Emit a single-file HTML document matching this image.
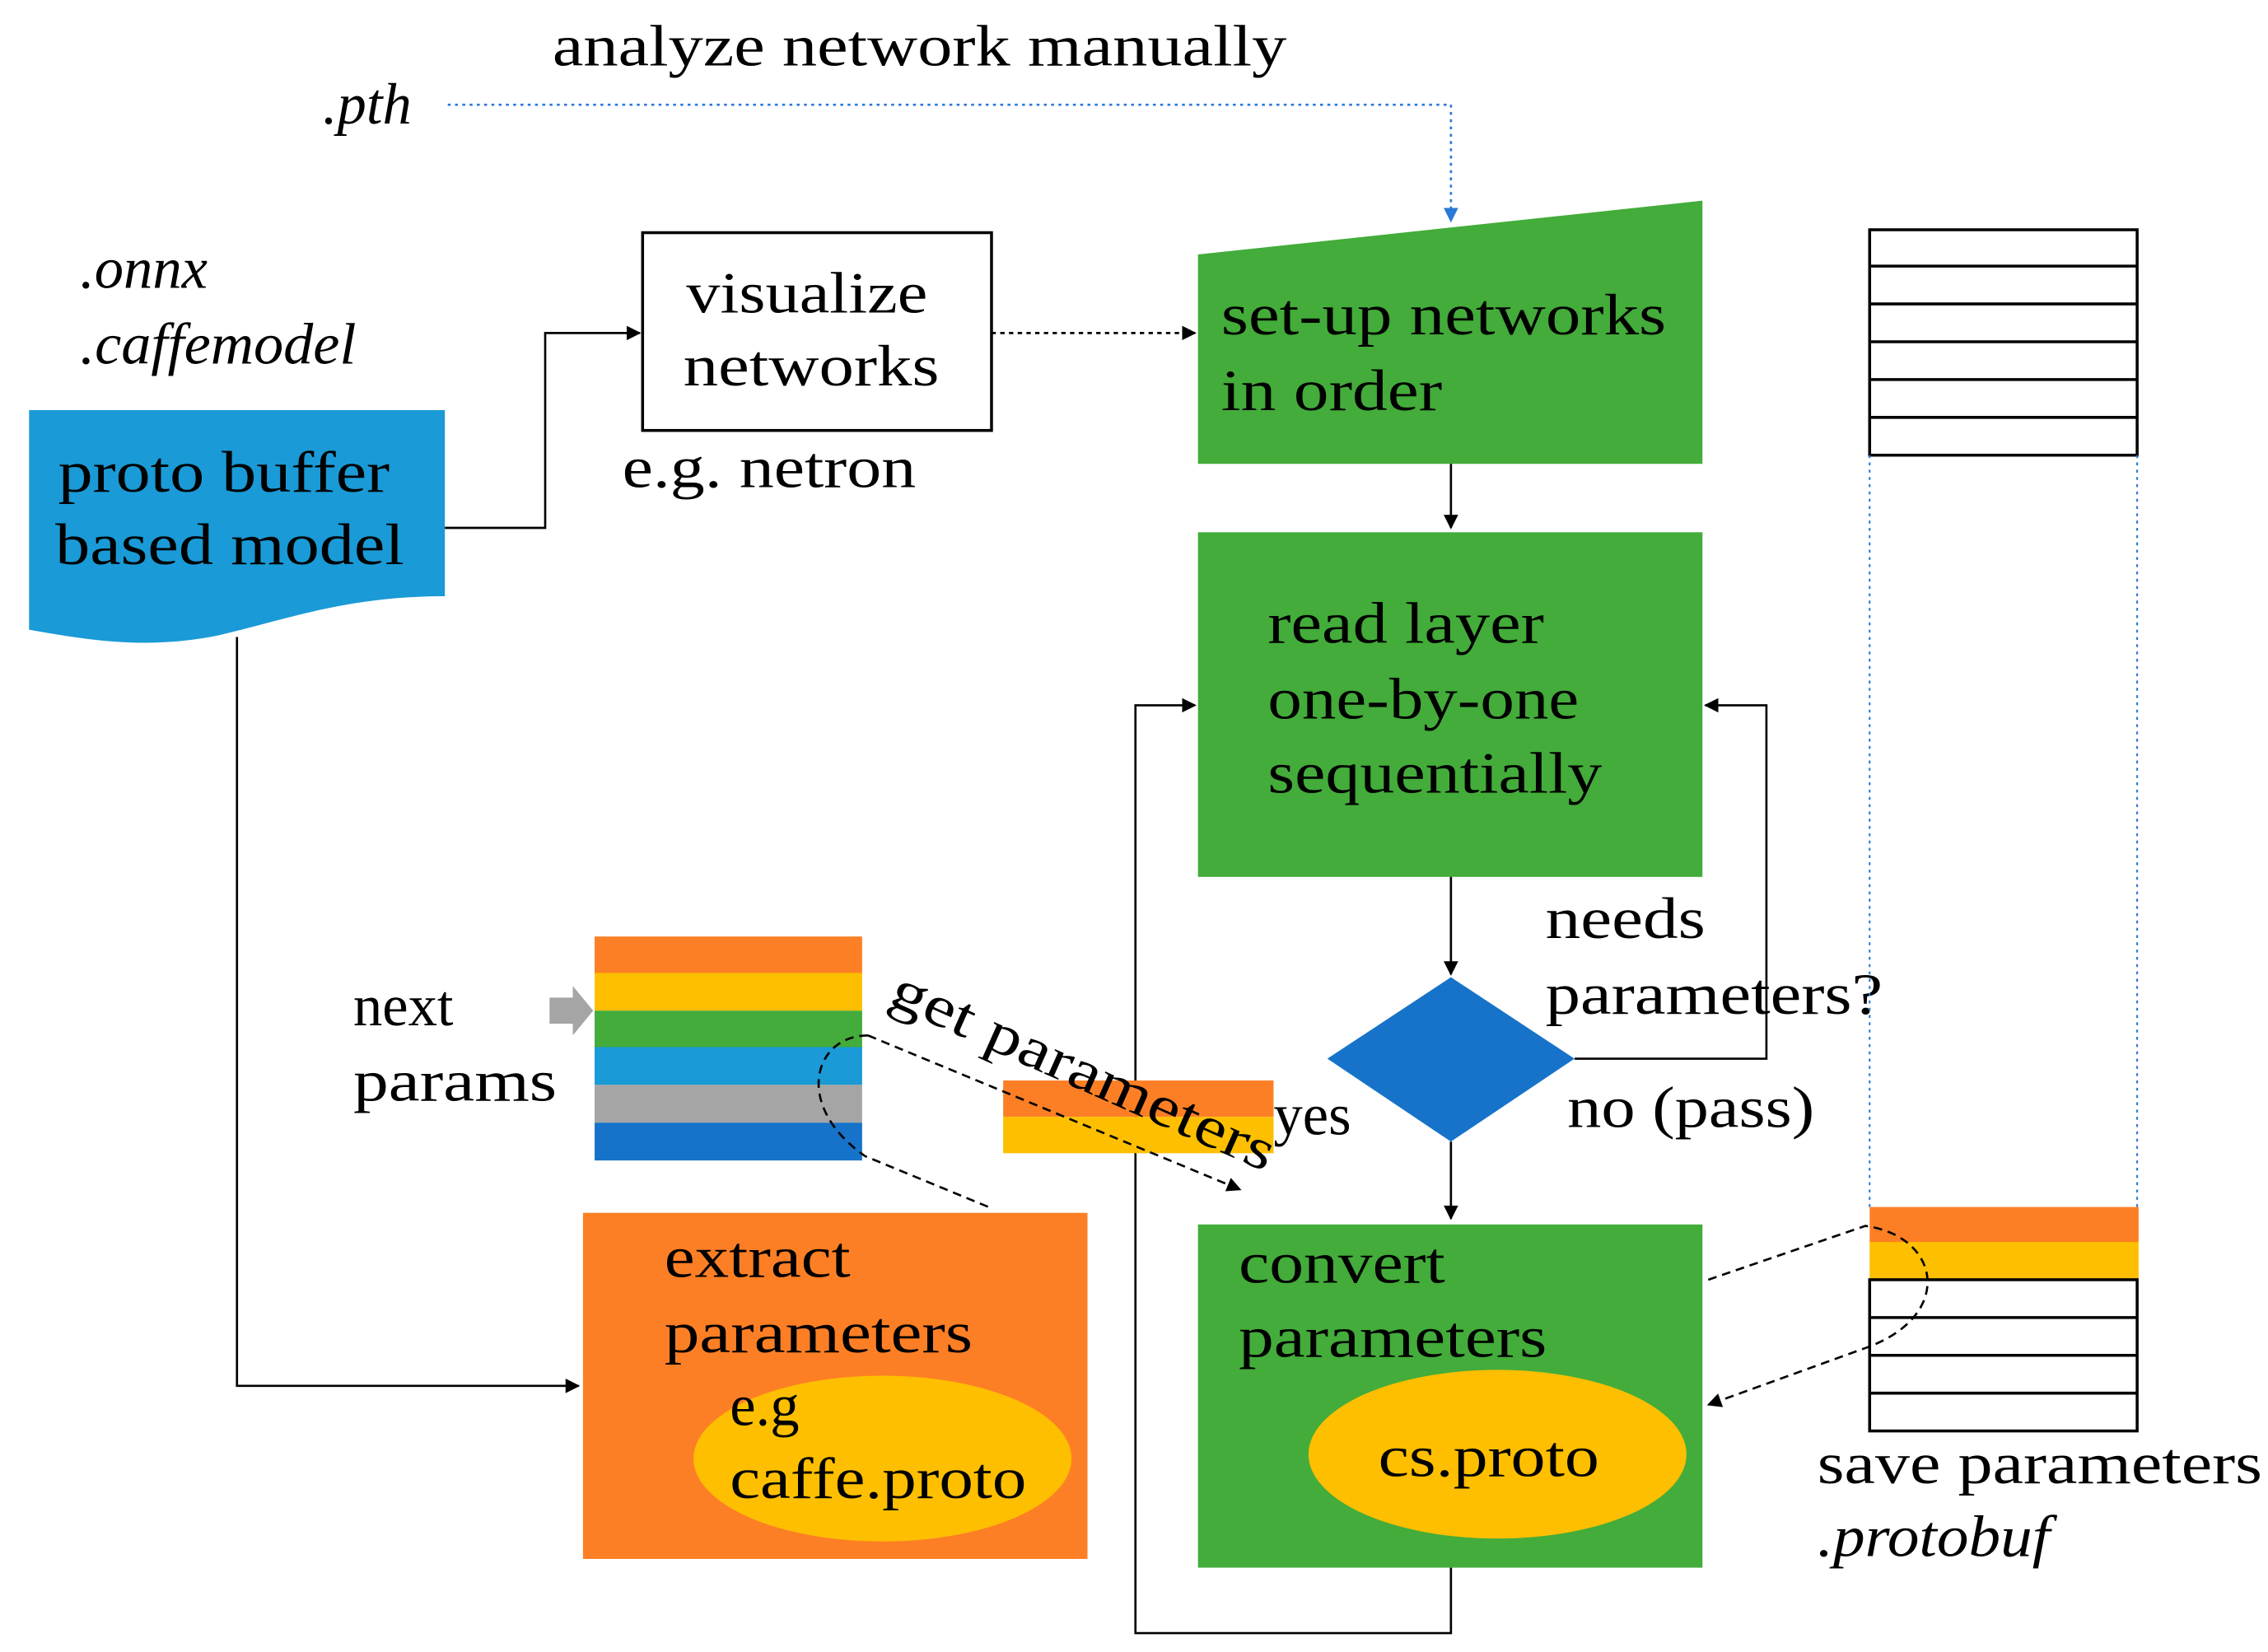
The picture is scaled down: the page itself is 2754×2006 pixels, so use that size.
<!DOCTYPE html>
<html><head><meta charset="utf-8"><style>html,body{margin:0;padding:0;background:#fff}svg{display:block}</style></head>
<body>
<svg width="2754" height="2006" viewBox="0 0 1560 1136" preserveAspectRatio="none" xmlns="http://www.w3.org/2000/svg" font-family="Liberation Serif, serif" font-size="40" fill="#000">
<defs>
<marker id="a" markerWidth="10" markerHeight="10" refX="9" refY="5" orient="auto" markerUnits="userSpaceOnUse"><path d="M0,0 L10,5 L0,10 z" fill="#000"/></marker>
<marker id="b" markerWidth="10" markerHeight="10" refX="9" refY="5" orient="auto" markerUnits="userSpaceOnUse"><path d="M0,0 L10,5 L0,10 z" fill="#2a78d6"/></marker>
</defs>
<text x="380" y="45" textLength="505" lengthAdjust="spacingAndGlyphs">analyze network manually</text>
<text x="222" y="85" font-style="italic">.pth</text>
<polyline points="308,72 998,72 998,152" fill="none" stroke="#2a78d6" stroke-width="1.5" stroke-dasharray="2,3" marker-end="url(#b)"/>
<text x="55" y="198" font-style="italic">.onnx</text>
<text x="55" y="250" font-style="italic" textLength="190" lengthAdjust="spacingAndGlyphs">.caffemodel</text>
<path d="M20,282 H306 V410 C240,410 200,425 150,437 C100,447 60,440 20,433 Z" fill="#1a9ad6"/>
<text x="40" y="338" textLength="228" lengthAdjust="spacingAndGlyphs">proto buffer</text>
<text x="38" y="388" textLength="240" lengthAdjust="spacingAndGlyphs">based model</text>
<polyline points="306,363 375,363 375,229 440,229" fill="none" stroke="#000" stroke-width="1.5" marker-end="url(#a)"/>
<rect x="442" y="160" width="240" height="136" fill="#fff" stroke="#000" stroke-width="2"/>
<text x="472" y="215" textLength="166" lengthAdjust="spacingAndGlyphs">visualize</text>
<text x="470" y="265" textLength="176" lengthAdjust="spacingAndGlyphs">networks</text>
<text x="428" y="335" textLength="202" lengthAdjust="spacingAndGlyphs">e.g. netron</text>
<line x1="682" y1="229" x2="822" y2="229" stroke="#000" stroke-width="1.5" stroke-dasharray="3,3" marker-end="url(#a)"/>
<polygon points="824,175 1171,138 1171,319 824,319" fill="#43ac3a"/>
<text x="840" y="230" textLength="306" lengthAdjust="spacingAndGlyphs">set-up networks</text>
<text x="840" y="282" textLength="152" lengthAdjust="spacingAndGlyphs">in order</text>
<line x1="998" y1="319" x2="998" y2="363" stroke="#000" stroke-width="1.5" marker-end="url(#a)"/>
<rect x="824" y="366" width="347" height="237" fill="#43ac3a"/>
<text x="872" y="442" textLength="190" lengthAdjust="spacingAndGlyphs">read layer</text>
<text x="872" y="494" textLength="214" lengthAdjust="spacingAndGlyphs">one-by-one</text>
<text x="872" y="545" textLength="230" lengthAdjust="spacingAndGlyphs">sequentially</text>
<line x1="998" y1="603" x2="998" y2="670" stroke="#000" stroke-width="1.5" marker-end="url(#a)"/>
<polygon points="913,728 998,672 1083,728 998,785" fill="#1673c9"/>
<polyline points="1083,728 1215,728 1215,485 1173,485" fill="none" stroke="#000" stroke-width="1.5" marker-end="url(#a)"/>
<text x="1063" y="645" textLength="110" lengthAdjust="spacingAndGlyphs">needs</text>
<text x="1063" y="697" textLength="232" lengthAdjust="spacingAndGlyphs">parameters?</text>
<text x="1078" y="775" textLength="170" lengthAdjust="spacingAndGlyphs">no (pass)</text>
<line x1="998" y1="785" x2="998" y2="838" stroke="#000" stroke-width="1.5" marker-end="url(#a)"/>
<rect x="824" y="842" width="347" height="236" fill="#43ac3a"/>
<text x="852" y="882" textLength="142" lengthAdjust="spacingAndGlyphs">convert</text>
<text x="852" y="933" textLength="212" lengthAdjust="spacingAndGlyphs">parameters</text>
<ellipse cx="1030" cy="1000" rx="130" ry="58" fill="#fdbf00"/>
<text x="948" y="1015" textLength="152" lengthAdjust="spacingAndGlyphs">cs.proto</text>
<polyline points="998,1078 998,1123 781,1123 781,485 822,485" fill="none" stroke="#000" stroke-width="1.5" marker-end="url(#a)"/>
<polyline points="163,438 163,953 398,953" fill="none" stroke="#000" stroke-width="1.5" marker-end="url(#a)"/>
<rect x="401" y="834" width="347" height="238" fill="#fd7f25"/>
<text x="457" y="878" textLength="128" lengthAdjust="spacingAndGlyphs">extract</text>
<text x="457" y="930" textLength="212" lengthAdjust="spacingAndGlyphs">parameters</text>
<ellipse cx="607" cy="1003" rx="130" ry="57" fill="#fdbf00"/>
<text x="502" y="980">e.g</text>
<text x="502" y="1030" textLength="204" lengthAdjust="spacingAndGlyphs">caffe.proto</text>
<rect x="409" y="644" width="184" height="26" fill="#fd7f25"/>
<rect x="409" y="669" width="184" height="26" fill="#fdbf00"/>
<rect x="409" y="695" width="184" height="26" fill="#43ac3a"/>
<rect x="409" y="720" width="184" height="26" fill="#1a9ad6"/>
<rect x="409" y="746" width="184" height="26" fill="#a5a5a5"/>
<rect x="409" y="772" width="184" height="26" fill="#1673c9"/>
<polygon points="378,686 394,686 394,678 408,695 394,712 394,704 378,704" fill="#a5a5a5"/>
<text x="243" y="705">next</text>
<text x="243" y="757" textLength="140" lengthAdjust="spacingAndGlyphs">params</text>
<rect x="690" y="743" width="186" height="25" fill="#fd7f25"/>
<rect x="690" y="768" width="186" height="25" fill="#fdbf00"/>
<text x="876" y="780">yes</text>
<path d="M597,712 C560,712 545,760 595,795 L680,830" fill="none" stroke="#000" stroke-width="1.5" stroke-dasharray="6,4"/>
<line x1="597" y1="712" x2="853" y2="818" stroke="#000" stroke-width="1.5" stroke-dasharray="6,4" marker-end="url(#a)"/>
<text x="0" y="0" transform="translate(610,690) rotate(24)" textLength="285" lengthAdjust="spacingAndGlyphs">get parameters</text>
<g fill="none" stroke="#000" stroke-width="2">
<rect x="1286" y="158" width="184" height="155"/>
<line x1="1286" y1="183" x2="1470" y2="183"/><line x1="1286" y1="209" x2="1470" y2="209"/><line x1="1286" y1="235" x2="1470" y2="235"/><line x1="1286" y1="261" x2="1470" y2="261"/><line x1="1286" y1="287" x2="1470" y2="287"/>
</g>
<line x1="1286" y1="313" x2="1286" y2="830" stroke="#2a78d6" stroke-width="1.2" stroke-dasharray="2,3"/>
<line x1="1470" y1="313" x2="1470" y2="830" stroke="#2a78d6" stroke-width="1.2" stroke-dasharray="2,3"/>
<rect x="1286" y="830" width="185" height="25" fill="#fd7f25"/>
<rect x="1286" y="854" width="185" height="26" fill="#fdbf00"/>
<g fill="none" stroke="#000" stroke-width="2">
<rect x="1286" y="880" width="184" height="104"/>
<line x1="1286" y1="906" x2="1470" y2="906"/><line x1="1286" y1="932" x2="1470" y2="932"/><line x1="1286" y1="958" x2="1470" y2="958"/>
</g>
<path d="M1175,880 L1283,843 C1335,850 1345,905 1283,927 L1175,966" fill="none" stroke="#000" stroke-width="1.5" stroke-dasharray="6,4" marker-end="url(#a)"/>
<text x="1250" y="1020" textLength="306" lengthAdjust="spacingAndGlyphs">save parameters</text>
<text x="1250" y="1070" font-style="italic" textLength="160" lengthAdjust="spacingAndGlyphs">.protobuf</text>
</svg>
</body></html>
